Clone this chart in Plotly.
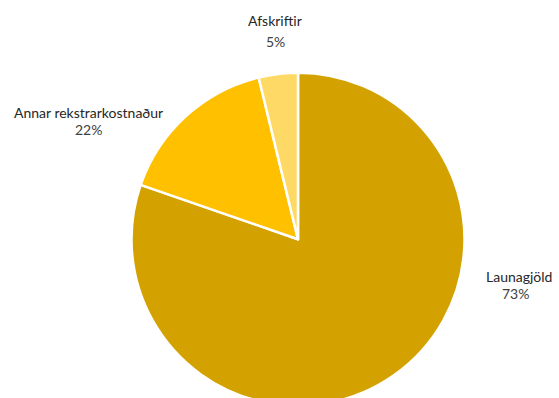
import plotly.graph_objects as go

# Data
categories = ["Launagjöld", "Annar rekstrarkostnaður", "Afskriftir"]
values = [80.3, 15.9, 3.8]
pct_labels = ["73%", "22%", "5%"]
colors = ["#D4A200", "#FFC000", "#FFD966"]

W, H = 559, 406

def px(x, y):
    return x / W, 1 - y / H

fig = go.Figure(
    go.Pie(
        labels=categories,
        values=values,
        sort=False,
        direction="clockwise",
        rotation=0,
        textinfo="none",
        hoverinfo="label+percent",
        marker=dict(colors=colors, line=dict(color="white", width=2.5)),
        domain=dict(x=[131.5 / W, 464.5 / W], y=[0, 1 - 72.5 / H]),
        showlegend=False,
    )
)

# label placement (pixel positions of name line and percent line)
name_pos = [(519, 276), (88, 112), (275, 21)]
pct_pos = [(515, 293), (88, 129), (275, 42)]

annotations = []
for i, cat in enumerate(categories):
    xn, yn = px(*name_pos[i])
    xp, yp = px(*pct_pos[i])
    annotations.append(dict(text=cat, x=xn, y=yn, xref="paper", yref="paper",
                            showarrow=False, xanchor="center", yanchor="middle",
                            font=dict(family="Lato", size=14, color="#262626")))
    annotations.append(dict(text=pct_labels[i], x=xp, y=yp, xref="paper", yref="paper",
                            showarrow=False, xanchor="center", yanchor="middle",
                            font=dict(family="Lato", size=14, color="#404040")))

fig.update_layout(
    width=W,
    height=H,
    margin=dict(l=0, r=0, t=0, b=0),
    paper_bgcolor="white",
    plot_bgcolor="white",
    annotations=annotations,
)

fig.write_html(
    "out.html",
    config={"displayModeBar": False},
    post_script="document.body.style.margin='0';document.body.style.overflow='hidden';document.documentElement.style.overflow='hidden';",
)
